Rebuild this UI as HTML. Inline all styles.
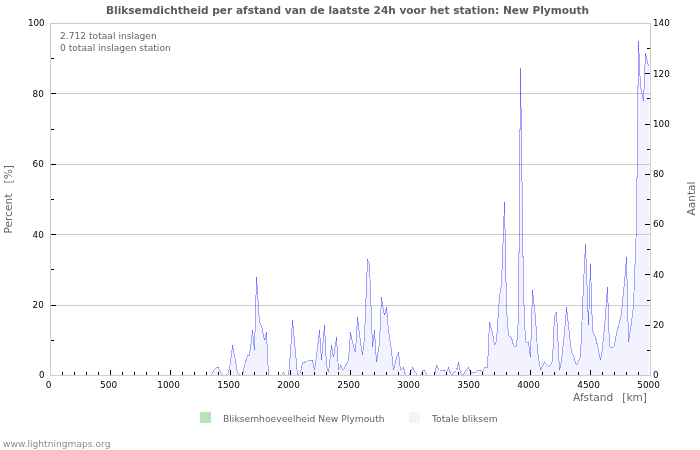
<!DOCTYPE html>
<html lang="nl"><head><meta charset="utf-8"><title>Bliksemdichtheid per afstand</title>
<style>
html,body{margin:0;padding:0;background:#fff;}
body{width:700px;height:450px;overflow:hidden;}
svg{display:block;}
text{font-family:"DejaVu Sans","Liberation Sans",sans-serif;}
.t{font-size:10.57px;font-weight:bold;fill:#5a5a5a;}
.a{font-size:8.8px;fill:#000;}
.ax{font-size:8.95px;fill:#000;}
.n{font-size:9.15px;fill:#666;}
.l{font-size:10.6px;fill:#666;}
.g{font-size:9.2px;fill:#646464;}
.w{font-size:9.15px;fill:#8c8c8c;}
</style></head><body>
<svg width="700" height="450" viewBox="0 0 700 450">
<rect x="0" y="0" width="700" height="450" fill="#fff"/>
<polygon points="50,375 50.5,375.50 52.5,375.50 55.5,375.50 57.5,375.50 60.5,375.50 62.5,375.50 64.5,375.50 67.5,375.50 69.5,375.50 72.5,375.50 74.5,375.50 76.5,375.50 79.5,375.50 81.5,375.50 84.5,375.50 86.5,375.50 88.5,375.50 91.5,375.50 93.5,375.50 96.5,375.50 98.5,375.50 100.5,375.50 103.5,375.50 105.5,375.50 108.5,375.50 110.5,375.50 112.5,375.50 115.5,375.50 117.5,375.50 120.5,375.50 122.5,375.50 124.5,375.50 127.5,375.50 129.5,375.50 132.5,375.50 134.5,375.50 136.5,375.50 139.5,375.50 141.5,375.50 144.5,375.50 146.5,375.50 148.5,375.50 151.5,375.50 153.5,375.50 156.5,375.50 158.5,375.50 160.5,375.50 163.5,375.50 165.5,375.50 168.5,375.50 170.5,375.50 172.5,375.50 175.5,375.50 177.5,375.50 180.5,375.50 182.5,375.50 184.5,375.50 187.5,375.50 189.5,375.50 192.5,375.50 194.5,375.50 196.5,375.50 199.5,375.50 201.5,375.50 204.5,375.50 206.5,375.50 208.5,375.50 211.5,375.50 213.5,370.50 216.5,367.50 218.5,367.50 220.5,372.50 223.5,375.50 225.5,375.50 228.5,372.50 230.5,362.50 232.5,345.50 235.5,360.50 237.5,372.50 240.5,375.50 242.5,375.50 244.5,365.50 247.5,355.50 249.5,355.50 252.5,330.50 254.5,350.50 256.5,277.50 259.5,322.50 261.5,325.50 264.5,340.50 266.5,332.50 268.5,375.50 271.5,375.50 273.5,375.50 276.5,375.50 278.5,375.50 280.5,375.50 283.5,372.50 285.5,375.50 288.5,375.50 290.5,352.50 292.5,320.50 295.5,352.50 297.5,375.50 300.5,372.50 302.5,362.50 304.5,362.50 307.5,360.50 309.5,360.50 312.5,360.50 314.5,370.50 316.5,355.50 319.5,330.50 321.5,360.50 324.5,325.50 326.5,365.50 328.5,372.50 331.5,345.50 333.5,357.50 336.5,337.50 338.5,370.50 340.5,365.50 343.5,370.50 345.5,365.50 348.5,360.50 350.5,332.50 352.5,342.50 355.5,352.50 357.5,317.50 360.5,342.50 362.5,355.50 364.5,337.50 367.5,259.50 369.5,264.50 372.5,347.50 374.5,330.50 376.5,362.50 379.5,342.50 381.5,297.50 384.5,315.50 386.5,307.50 388.5,330.50 391.5,350.50 393.5,370.50 396.5,357.50 398.5,352.50 400.5,370.50 403.5,367.50 405.5,375.50 408.5,375.50 410.5,372.50 412.5,367.50 415.5,372.50 417.5,375.50 420.5,375.50 422.5,370.50 424.5,370.50 427.5,375.50 429.5,375.50 432.5,375.50 434.5,375.50 436.5,365.50 439.5,370.50 441.5,370.50 444.5,370.50 446.5,372.50 448.5,367.50 451.5,375.50 453.5,372.50 456.5,370.50 458.5,362.50 460.5,372.50 463.5,375.50 465.5,370.50 468.5,367.50 470.5,372.50 472.5,372.50 475.5,372.50 477.5,370.50 480.5,370.50 482.5,372.50 484.5,367.50 487.5,367.50 489.5,322.50 492.5,332.50 494.5,345.50 496.5,340.50 499.5,295.50 501.5,284.50 504.5,202.50 506.5,307.50 508.5,335.50 511.5,337.50 513.5,345.50 516.5,347.50 518.5,317.50 520.5,68.50 523.5,292.50 525.5,342.50 528.5,342.50 530.5,357.50 532.5,290.50 535.5,317.50 537.5,350.50 540.5,370.50 542.5,365.50 544.5,362.50 547.5,365.50 549.5,367.50 552.5,360.50 554.5,315.50 556.5,312.50 559.5,370.50 561.5,360.50 564.5,332.50 566.5,307.50 568.5,325.50 571.5,352.50 573.5,355.50 576.5,365.50 578.5,360.50 580.5,357.50 583.5,284.50 585.5,244.50 588.5,325.50 590.5,264.50 592.5,330.50 595.5,337.50 597.5,345.50 600.5,360.50 602.5,347.50 604.5,327.50 607.5,287.50 609.5,347.50 612.5,347.50 614.5,345.50 616.5,332.50 619.5,322.50 621.5,312.50 624.5,282.50 626.5,257.50 628.5,342.50 631.5,322.50 633.5,305.50 636.5,224.50 638.5,41.50 640.5,86.50 643.5,101.50 645.5,53.50 648.5,66.50 649,66.50 649,375" fill="#f3f3ff" stroke="none"/>
<rect x="50" y="305" width="600" height="1" fill="#ccc"/>
<rect x="50" y="234" width="600" height="1" fill="#ccc"/>
<rect x="50" y="164" width="600" height="1" fill="#ccc"/>
<rect x="50" y="93" width="600" height="1" fill="#ccc"/>
<g stroke="#0000ff" stroke-opacity="0.34" stroke-width="1" fill="none" shape-rendering="crispEdges">
<path d="M211.5 375.50L213.5 370.50"/>
<path d="M213.5 370.50L216.5 367.50"/>
<path d="M216.5 367.50L218.5 367.50"/>
<path d="M218.5 367.50L220.5 372.50"/>
<path d="M220.5 372.50L223.5 375.50"/>
<path d="M225.5 375.50L228.5 372.50"/>
<path d="M228.5 372.50L230.5 362.50"/>
<path d="M230.5 362.50L232.5 345.50"/>
<path d="M232.5 345.50L235.5 360.50"/>
<path d="M235.5 360.50L237.5 372.50"/>
<path d="M237.5 372.50L240.5 375.50"/>
<path d="M242.5 375.50L244.5 365.50"/>
<path d="M244.5 365.50L247.5 355.50"/>
<path d="M247.5 355.50L249.5 355.50"/>
<path d="M249.5 355.50L252.5 330.50"/>
<path d="M252.5 330.50L254.5 350.50"/>
<path d="M254.5 350.50L256.5 277.50"/>
<path d="M256.5 277.50L259.5 322.50"/>
<path d="M259.5 322.50L261.5 325.50"/>
<path d="M261.5 325.50L264.5 340.50"/>
<path d="M264.5 340.50L266.5 332.50"/>
<path d="M266.5 332.50L268.5 375.50"/>
<path d="M280.5 375.50L283.5 372.50"/>
<path d="M283.5 372.50L285.5 375.50"/>
<path d="M288.5 375.50L290.5 352.50"/>
<path d="M290.5 352.50L292.5 320.50"/>
<path d="M292.5 320.50L295.5 352.50"/>
<path d="M295.5 352.50L297.5 375.50"/>
<path d="M297.5 375.50L300.5 372.50"/>
<path d="M300.5 372.50L302.5 362.50"/>
<path d="M302.5 362.50L304.5 362.50"/>
<path d="M304.5 362.50L307.5 360.50"/>
<path d="M307.5 360.50L309.5 360.50"/>
<path d="M309.5 360.50L312.5 360.50"/>
<path d="M312.5 360.50L314.5 370.50"/>
<path d="M314.5 370.50L316.5 355.50"/>
<path d="M316.5 355.50L319.5 330.50"/>
<path d="M319.5 330.50L321.5 360.50"/>
<path d="M321.5 360.50L324.5 325.50"/>
<path d="M324.5 325.50L326.5 365.50"/>
<path d="M326.5 365.50L328.5 372.50"/>
<path d="M328.5 372.50L331.5 345.50"/>
<path d="M331.5 345.50L333.5 357.50"/>
<path d="M333.5 357.50L336.5 337.50"/>
<path d="M336.5 337.50L338.5 370.50"/>
<path d="M338.5 370.50L340.5 365.50"/>
<path d="M340.5 365.50L343.5 370.50"/>
<path d="M343.5 370.50L345.5 365.50"/>
<path d="M345.5 365.50L348.5 360.50"/>
<path d="M348.5 360.50L350.5 332.50"/>
<path d="M350.5 332.50L352.5 342.50"/>
<path d="M352.5 342.50L355.5 352.50"/>
<path d="M355.5 352.50L357.5 317.50"/>
<path d="M357.5 317.50L360.5 342.50"/>
<path d="M360.5 342.50L362.5 355.50"/>
<path d="M362.5 355.50L364.5 337.50"/>
<path d="M364.5 337.50L367.5 259.50"/>
<path d="M367.5 259.50L369.5 264.50"/>
<path d="M369.5 264.50L372.5 347.50"/>
<path d="M372.5 347.50L374.5 330.50"/>
<path d="M374.5 330.50L376.5 362.50"/>
<path d="M376.5 362.50L379.5 342.50"/>
<path d="M379.5 342.50L381.5 297.50"/>
<path d="M381.5 297.50L384.5 315.50"/>
<path d="M384.5 315.50L386.5 307.50"/>
<path d="M386.5 307.50L388.5 330.50"/>
<path d="M388.5 330.50L391.5 350.50"/>
<path d="M391.5 350.50L393.5 370.50"/>
<path d="M393.5 370.50L396.5 357.50"/>
<path d="M396.5 357.50L398.5 352.50"/>
<path d="M398.5 352.50L400.5 370.50"/>
<path d="M400.5 370.50L403.5 367.50"/>
<path d="M403.5 367.50L405.5 375.50"/>
<path d="M408.5 375.50L410.5 372.50"/>
<path d="M410.5 372.50L412.5 367.50"/>
<path d="M412.5 367.50L415.5 372.50"/>
<path d="M415.5 372.50L417.5 375.50"/>
<path d="M420.5 375.50L422.5 370.50"/>
<path d="M422.5 370.50L424.5 370.50"/>
<path d="M424.5 370.50L427.5 375.50"/>
<path d="M434.5 375.50L436.5 365.50"/>
<path d="M436.5 365.50L439.5 370.50"/>
<path d="M439.5 370.50L441.5 370.50"/>
<path d="M441.5 370.50L444.5 370.50"/>
<path d="M444.5 370.50L446.5 372.50"/>
<path d="M446.5 372.50L448.5 367.50"/>
<path d="M448.5 367.50L451.5 375.50"/>
<path d="M451.5 375.50L453.5 372.50"/>
<path d="M453.5 372.50L456.5 370.50"/>
<path d="M456.5 370.50L458.5 362.50"/>
<path d="M458.5 362.50L460.5 372.50"/>
<path d="M460.5 372.50L463.5 375.50"/>
<path d="M463.5 375.50L465.5 370.50"/>
<path d="M465.5 370.50L468.5 367.50"/>
<path d="M468.5 367.50L470.5 372.50"/>
<path d="M470.5 372.50L472.5 372.50"/>
<path d="M472.5 372.50L475.5 372.50"/>
<path d="M475.5 372.50L477.5 370.50"/>
<path d="M477.5 370.50L480.5 370.50"/>
<path d="M480.5 370.50L482.5 372.50"/>
<path d="M482.5 372.50L484.5 367.50"/>
<path d="M484.5 367.50L487.5 367.50"/>
<path d="M487.5 367.50L489.5 322.50"/>
<path d="M489.5 322.50L492.5 332.50"/>
<path d="M492.5 332.50L494.5 345.50"/>
<path d="M494.5 345.50L496.5 340.50"/>
<path d="M496.5 340.50L499.5 295.50"/>
<path d="M499.5 295.50L501.5 284.50"/>
<path d="M501.5 284.50L504.5 202.50"/>
<path d="M504.5 202.50L506.5 307.50"/>
<path d="M506.5 307.50L508.5 335.50"/>
<path d="M508.5 335.50L511.5 337.50"/>
<path d="M511.5 337.50L513.5 345.50"/>
<path d="M513.5 345.50L516.5 347.50"/>
<path d="M516.5 347.50L518.5 317.50"/>
<path d="M518.5 317.50L520.5 68.50"/>
<path d="M520.5 68.50L523.5 292.50"/>
<path d="M523.5 292.50L525.5 342.50"/>
<path d="M525.5 342.50L528.5 342.50"/>
<path d="M528.5 342.50L530.5 357.50"/>
<path d="M530.5 357.50L532.5 290.50"/>
<path d="M532.5 290.50L535.5 317.50"/>
<path d="M535.5 317.50L537.5 350.50"/>
<path d="M537.5 350.50L540.5 370.50"/>
<path d="M540.5 370.50L542.5 365.50"/>
<path d="M542.5 365.50L544.5 362.50"/>
<path d="M544.5 362.50L547.5 365.50"/>
<path d="M547.5 365.50L549.5 367.50"/>
<path d="M549.5 367.50L552.5 360.50"/>
<path d="M552.5 360.50L554.5 315.50"/>
<path d="M554.5 315.50L556.5 312.50"/>
<path d="M556.5 312.50L559.5 370.50"/>
<path d="M559.5 370.50L561.5 360.50"/>
<path d="M561.5 360.50L564.5 332.50"/>
<path d="M564.5 332.50L566.5 307.50"/>
<path d="M566.5 307.50L568.5 325.50"/>
<path d="M568.5 325.50L571.5 352.50"/>
<path d="M571.5 352.50L573.5 355.50"/>
<path d="M573.5 355.50L576.5 365.50"/>
<path d="M576.5 365.50L578.5 360.50"/>
<path d="M578.5 360.50L580.5 357.50"/>
<path d="M580.5 357.50L583.5 284.50"/>
<path d="M583.5 284.50L585.5 244.50"/>
<path d="M585.5 244.50L588.5 325.50"/>
<path d="M588.5 325.50L590.5 264.50"/>
<path d="M590.5 264.50L592.5 330.50"/>
<path d="M592.5 330.50L595.5 337.50"/>
<path d="M595.5 337.50L597.5 345.50"/>
<path d="M597.5 345.50L600.5 360.50"/>
<path d="M600.5 360.50L602.5 347.50"/>
<path d="M602.5 347.50L604.5 327.50"/>
<path d="M604.5 327.50L607.5 287.50"/>
<path d="M607.5 287.50L609.5 347.50"/>
<path d="M609.5 347.50L612.5 347.50"/>
<path d="M612.5 347.50L614.5 345.50"/>
<path d="M614.5 345.50L616.5 332.50"/>
<path d="M616.5 332.50L619.5 322.50"/>
<path d="M619.5 322.50L621.5 312.50"/>
<path d="M621.5 312.50L624.5 282.50"/>
<path d="M624.5 282.50L626.5 257.50"/>
<path d="M626.5 257.50L628.5 342.50"/>
<path d="M628.5 342.50L631.5 322.50"/>
<path d="M631.5 322.50L633.5 305.50"/>
<path d="M633.5 305.50L636.5 224.50"/>
<path d="M636.5 224.50L638.5 41.50"/>
<path d="M638.5 41.50L640.5 86.50"/>
<path d="M640.5 86.50L643.5 101.50"/>
<path d="M643.5 101.50L645.5 53.50"/>
<path d="M645.5 53.50L648.5 66.50"/>
</g>
<rect x="50" y="23" width="601" height="1" fill="#ccc"/><rect x="50" y="375" width="601" height="1" fill="#ccc"/><rect x="50" y="23" width="1" height="353" fill="#ccc"/><rect x="650" y="23" width="1" height="353" fill="#ccc"/>
<rect x="62" y="372" width="1" height="3" fill="#000"/>
<rect x="74" y="372" width="1" height="3" fill="#000"/>
<rect x="86" y="372" width="1" height="3" fill="#000"/>
<rect x="98" y="372" width="1" height="3" fill="#000"/>
<rect x="110" y="370" width="1" height="5" fill="#000"/>
<rect x="122" y="372" width="1" height="3" fill="#000"/>
<rect x="134" y="372" width="1" height="3" fill="#000"/>
<rect x="146" y="372" width="1" height="3" fill="#000"/>
<rect x="158" y="372" width="1" height="3" fill="#000"/>
<rect x="170" y="370" width="1" height="5" fill="#000"/>
<rect x="182" y="372" width="1" height="3" fill="#000"/>
<rect x="194" y="372" width="1" height="3" fill="#000"/>
<rect x="206" y="372" width="1" height="3" fill="#000"/>
<rect x="218" y="372" width="1" height="3" fill="#000"/>
<rect x="230" y="370" width="1" height="5" fill="#000"/>
<rect x="242" y="372" width="1" height="3" fill="#000"/>
<rect x="254" y="372" width="1" height="3" fill="#000"/>
<rect x="266" y="372" width="1" height="3" fill="#000"/>
<rect x="278" y="372" width="1" height="3" fill="#000"/>
<rect x="290" y="370" width="1" height="5" fill="#000"/>
<rect x="302" y="372" width="1" height="3" fill="#000"/>
<rect x="314" y="372" width="1" height="3" fill="#000"/>
<rect x="326" y="372" width="1" height="3" fill="#000"/>
<rect x="338" y="372" width="1" height="3" fill="#000"/>
<rect x="350" y="370" width="1" height="5" fill="#000"/>
<rect x="362" y="372" width="1" height="3" fill="#000"/>
<rect x="374" y="372" width="1" height="3" fill="#000"/>
<rect x="386" y="372" width="1" height="3" fill="#000"/>
<rect x="398" y="372" width="1" height="3" fill="#000"/>
<rect x="410" y="370" width="1" height="5" fill="#000"/>
<rect x="422" y="372" width="1" height="3" fill="#000"/>
<rect x="434" y="372" width="1" height="3" fill="#000"/>
<rect x="446" y="372" width="1" height="3" fill="#000"/>
<rect x="458" y="372" width="1" height="3" fill="#000"/>
<rect x="470" y="370" width="1" height="5" fill="#000"/>
<rect x="482" y="372" width="1" height="3" fill="#000"/>
<rect x="494" y="372" width="1" height="3" fill="#000"/>
<rect x="506" y="372" width="1" height="3" fill="#000"/>
<rect x="518" y="372" width="1" height="3" fill="#000"/>
<rect x="530" y="370" width="1" height="5" fill="#000"/>
<rect x="542" y="372" width="1" height="3" fill="#000"/>
<rect x="554" y="372" width="1" height="3" fill="#000"/>
<rect x="566" y="372" width="1" height="3" fill="#000"/>
<rect x="578" y="372" width="1" height="3" fill="#000"/>
<rect x="590" y="370" width="1" height="5" fill="#000"/>
<rect x="602" y="372" width="1" height="3" fill="#000"/>
<rect x="614" y="372" width="1" height="3" fill="#000"/>
<rect x="626" y="372" width="1" height="3" fill="#000"/>
<rect x="638" y="372" width="1" height="3" fill="#000"/>
<rect x="51" y="340" width="3" height="1" fill="#000"/>
<rect x="51" y="305" width="5" height="1" fill="#000"/>
<rect x="51" y="269" width="3" height="1" fill="#000"/>
<rect x="51" y="234" width="5" height="1" fill="#000"/>
<rect x="51" y="199" width="3" height="1" fill="#000"/>
<rect x="51" y="164" width="5" height="1" fill="#000"/>
<rect x="51" y="129" width="3" height="1" fill="#000"/>
<rect x="51" y="93" width="5" height="1" fill="#000"/>
<rect x="51" y="58" width="3" height="1" fill="#000"/>
<rect x="647" y="350" width="3" height="1" fill="#000"/>
<rect x="645" y="325" width="5" height="1" fill="#000"/>
<rect x="647" y="300" width="3" height="1" fill="#000"/>
<rect x="645" y="274" width="5" height="1" fill="#000"/>
<rect x="647" y="249" width="3" height="1" fill="#000"/>
<rect x="645" y="224" width="5" height="1" fill="#000"/>
<rect x="647" y="199" width="3" height="1" fill="#000"/>
<rect x="645" y="174" width="5" height="1" fill="#000"/>
<rect x="647" y="149" width="3" height="1" fill="#000"/>
<rect x="645" y="124" width="5" height="1" fill="#000"/>
<rect x="647" y="98" width="3" height="1" fill="#000"/>
<rect x="645" y="73" width="5" height="1" fill="#000"/>
<rect x="647" y="48" width="3" height="1" fill="#000"/>
<text class="ax" x="48.6" y="387.8" text-anchor="middle">0</text>
<text class="ax" x="108.6" y="387.8" text-anchor="middle">500</text>
<text class="ax" x="168.6" y="387.8" text-anchor="middle">1000</text>
<text class="ax" x="228.6" y="387.8" text-anchor="middle">1500</text>
<text class="ax" x="288.6" y="387.8" text-anchor="middle">2000</text>
<text class="ax" x="348.6" y="387.8" text-anchor="middle">2500</text>
<text class="ax" x="408.6" y="387.8" text-anchor="middle">3000</text>
<text class="ax" x="468.6" y="387.8" text-anchor="middle">3500</text>
<text class="ax" x="528.6" y="387.8" text-anchor="middle">4000</text>
<text class="ax" x="588.6" y="387.8" text-anchor="middle">4500</text>
<text class="ax" x="648.6" y="387.8" text-anchor="middle">5000</text>
<text class="a" x="44.5" y="378.3" text-anchor="end">0</text>
<text class="a" x="43.8" y="307.9" text-anchor="end">20</text>
<text class="a" x="43.8" y="237.5" text-anchor="end">40</text>
<text class="a" x="43.8" y="167.1" text-anchor="end">60</text>
<text class="a" x="43.8" y="96.7" text-anchor="end">80</text>
<text class="a" x="44.7" y="26.3" text-anchor="end">100</text>
<text class="a" x="653" y="378.3">0</text>
<text class="a" x="653" y="328.0">20</text>
<text class="a" x="653" y="277.7">40</text>
<text class="a" x="653" y="227.4">60</text>
<text class="a" x="653" y="177.2">80</text>
<text class="a" x="653" y="126.9">100</text>
<text class="a" x="653" y="76.6">120</text>
<text class="a" x="653" y="26.3">140</text>
<text class="t" x="347.5" y="14" text-anchor="middle">Bliksemdichtheid per afstand van de laatste 24h voor het station: New Plymouth</text>
<text class="n" x="60" y="39">2.712 totaal inslagen</text>
<text class="n" x="60" y="51">0 totaal inslagen station</text>
<text class="l" x="647" y="401" text-anchor="end" xml:space="preserve" word-spacing="-0.35">Afstand   [km]</text>
<text class="l" transform="translate(12.3,199.3) rotate(-90)" text-anchor="middle" xml:space="preserve">Percent   [%]</text>
<text class="l" transform="translate(695.3,198.5) rotate(-90)" text-anchor="middle">Aantal</text>
<rect x="200" y="412" width="11" height="11" fill="#b8e2b8"/>
<text class="g" x="223" y="422">Bliksemhoeveelheid New Plymouth</text>
<rect x="409" y="412" width="11" height="11" fill="#f3f3ff"/>
<text class="g" x="432" y="422">Totale bliksem</text>
<text class="w" x="3" y="446.8">www.lightningmaps.org</text>
</svg></body></html>
